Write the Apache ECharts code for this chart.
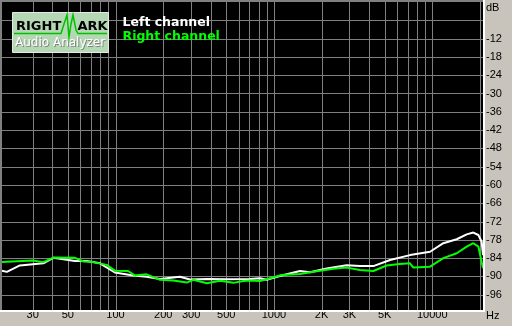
<!DOCTYPE html>
<html>
<head>
<meta charset="utf-8">
<script src="https://cdn.jsdelivr.net/npm/echarts@6/dist/echarts.min.js"></script>
<style>html,body{margin:0;padding:0;background:#c8c4bc;}#c{width:512px;height:326px;}</style>
</head>
<body>
<div id="c"></div>
<script>
// ---- data ----
const freqLeft = [19.2, 20.6, 24.9, 35, 40.5, 55.5, 65.8, 79.8, 99, 129.5, 157, 191, 255, 295, 377, 500, 706, 817, 900, 1119, 1461, 1692, 2153, 2879, 3494, 4244, 5410, 7230, 9680, 11740, 14260, 16490, 18160, 19540, 20500, 20900];
const dbLeft   = [-88.1, -88.5, -86.4, -85.7, -83.9, -84.9, -84.9, -85.7, -88.7, -89.7, -90.1, -90.8, -90.1, -91.0, -90.8, -90.9, -90.8, -90.6, -91.1, -89.7, -88.2, -88.6, -87.4, -86.3, -86.6, -86.6, -84.6, -83.0, -81.9, -79.1, -77.8, -76.2, -75.6, -76.4, -78.6, -83.0];
const freqRight = [19.2, 30, 35, 40.5, 55.5, 62.7, 72.5, 88, 99, 120, 133, 157, 191, 232, 282, 310, 377, 457, 555, 642, 706, 817, 900, 1119, 1461, 1862, 2372, 2879, 3494, 4244, 5153, 6220, 7230, 7590, 9680, 11740, 14260, 16490, 18160, 19540, 20900];
const dbRight   = [-85.3, -84.8, -85.3, -83.8, -83.9, -85.1, -85.3, -86.2, -88.1, -88.2, -89.7, -89.3, -91.1, -91.3, -92.0, -91.1, -92.2, -91.4, -92.1, -91.5, -91.3, -91.5, -90.9, -89.5, -89.2, -88.3, -87.5, -87.1, -87.9, -88.2, -86.4, -85.9, -85.7, -87.1, -86.8, -84.0, -82.4, -80.2, -79.1, -80.2, -87.3];
const xTickLabels = [30, 50, 100, 200, 300, 500, 1000, 2000, 3000, 5000, 10000];
const yTickLabels = [-12, -18, -24, -30, -36, -42, -48, -54, -60, -66, -72, -78, -84, -90, -96];
const xGridFreqs = [30, 40, 50, 60, 70, 80, 90, 100, 200, 300, 400, 500, 600, 700, 800, 900, 1000, 2000, 3000, 4000, 5000, 6000, 7000, 8000, 9000, 10000, 20000];
const yGridDb = [-6, -12, -18, -24, -30, -36, -42, -48, -54, -60, -66, -72, -78, -84, -90, -96];
const seriesNames = ['Left channel', 'Right channel'];

const chart = echarts.init(document.getElementById('c'), null, {renderer: 'canvas'});
const labelFont = '"Liberation Sans", Arial, sans-serif';

function fmtHz(v) {
  if (v >= 2000 && v < 10000) return (v / 1000) + 'K';
  return String(v);
}

const option = {
  backgroundColor: '#c8c4bc',
  animation: false,
  grid: {left: 2, top: 2, right: 29, bottom: 16, show: true, backgroundColor: '#000', borderWidth: 0},
  xAxis: {
    type: 'log', logBase: 10, min: 19.2, max: 20900,
    axisLine: {show: false}, axisTick: {show: false}, splitLine: {show: false},
    axisLabel: {customValues: xTickLabels, formatter: fmtHz, color: '#000', fontFamily: labelFont, fontSize: 11, margin: 5, verticalAlign: 'middle'}
  },
  yAxis: {
    type: 'value', position: 'right', min: -101, max: 0,
    axisLine: {show: false}, axisTick: {show: false}, splitLine: {show: false},
    axisLabel: {customValues: yTickLabels, color: '#000', fontFamily: labelFont, fontSize: 11, margin: 3, align: 'left'}
  },
  series: [
    {
      type: 'custom', z: 1, silent: true,
      data: xGridFreqs.map(f => [f, -50]),
      renderItem: function (params, api) {
        const cs = params.coordSys;
        const x = Math.round(api.coord([api.value(0), -50])[0]) + 0.5;
        return {type: 'line', shape: {x1: x, y1: cs.y, x2: x, y2: cs.y + cs.height}, style: {stroke: '#808080', lineWidth: 1}};
      }
    },
    {
      type: 'custom', z: 1, silent: true,
      data: yGridDb.map(d => [1000, d]),
      renderItem: function (params, api) {
        const cs = params.coordSys;
        const y = Math.round(api.coord([1000, api.value(1)])[1]) + 0.5;
        return {type: 'line', shape: {x1: cs.x, y1: y, x2: cs.x + cs.width, y2: y}, style: {stroke: '#808080', lineWidth: 1}};
      }
    },
    {
      name: seriesNames[0], type: 'line', z: 2, showSymbol: false, silent: true,
      data: freqLeft.map((f, i) => [f, dbLeft[i]]),
      lineStyle: {color: '#ffffff', width: 2}
    },
    {
      name: seriesNames[1], type: 'line', z: 3, showSymbol: false, silent: true,
      data: freqRight.map((f, i) => [f, dbRight[i]]),
      lineStyle: {color: '#00ff00', width: 2}
    }
  ],
  graphic: [
    // bevel
    {type: 'rect', shape: {x: 0, y: 0, width: 485, height: 2}, style: {fill: '#808080'}, z: 10},
    {type: 'rect', shape: {x: 0, y: 0, width: 2, height: 312}, style: {fill: '#808080'}, z: 10},
    {type: 'rect', shape: {x: 483, y: 0, width: 2, height: 312}, style: {fill: '#ffffff'}, z: 10},
    {type: 'rect', shape: {x: 0, y: 310, width: 485, height: 2}, style: {fill: '#ffffff'}, z: 10},
    // axis unit labels
    {type: 'text', style: {text: 'dB', x: 486, y: 8, font: '11px ' + labelFont, fill: '#000', verticalAlign: 'middle'}, z: 10},
    {type: 'text', style: {text: 'Hz', x: 486, y: 316, font: '11px ' + labelFont, fill: '#000', verticalAlign: 'middle'}, z: 10},
    // legend texts
    {type: 'text', style: {text: seriesNames[0], x: 122.5, y: 23, font: 'bold 12.5px "DejaVu Sans"', fill: '#ffffff', verticalAlign: 'middle'}, z: 10},
    {type: 'text', style: {text: seriesNames[1], x: 122.5, y: 36.5, font: 'bold 12.5px "DejaVu Sans"', fill: '#00ff00', verticalAlign: 'middle'}, z: 10},
    // logo
    {type: 'rect', shape: {x: 12.5, y: 12.5, width: 96, height: 40}, style: {fill: '#b4d8b4', stroke: '#e8e8e8', lineWidth: 1}, z: 10},
    {type: 'polyline', shape: {points: [[14, 33.5], [61, 33.5], [64, 24], [67, 15], [69, 37], [71, 24], [73, 15], [76, 30], [78, 33.5], [107, 33.5]]}, style: {stroke: '#00c000', lineWidth: 1.5, fill: null}, z: 11},
    {type: 'text', style: {text: 'RIGHT', x: 16, y: 27, font: 'bold 13px "DejaVu Sans"', fill: '#000', verticalAlign: 'middle'}, z: 12},
    {type: 'text', style: {text: 'ARK', x: 77.5, y: 27, font: 'bold 13px "DejaVu Sans"', fill: '#000', verticalAlign: 'middle'}, z: 12},
    {type: 'text', style: {text: 'Audio Analyzer', x: 16, y: 44, font: '12px "DejaVu Sans"', fill: '#808080', verticalAlign: 'middle'}, z: 12},
    {type: 'text', style: {text: 'Audio Analyzer', x: 15, y: 43, font: '12px "DejaVu Sans"', fill: '#ffffff', verticalAlign: 'middle'}, z: 13}
  ]
};
chart.setOption(option);
</script>
</body>
</html>
